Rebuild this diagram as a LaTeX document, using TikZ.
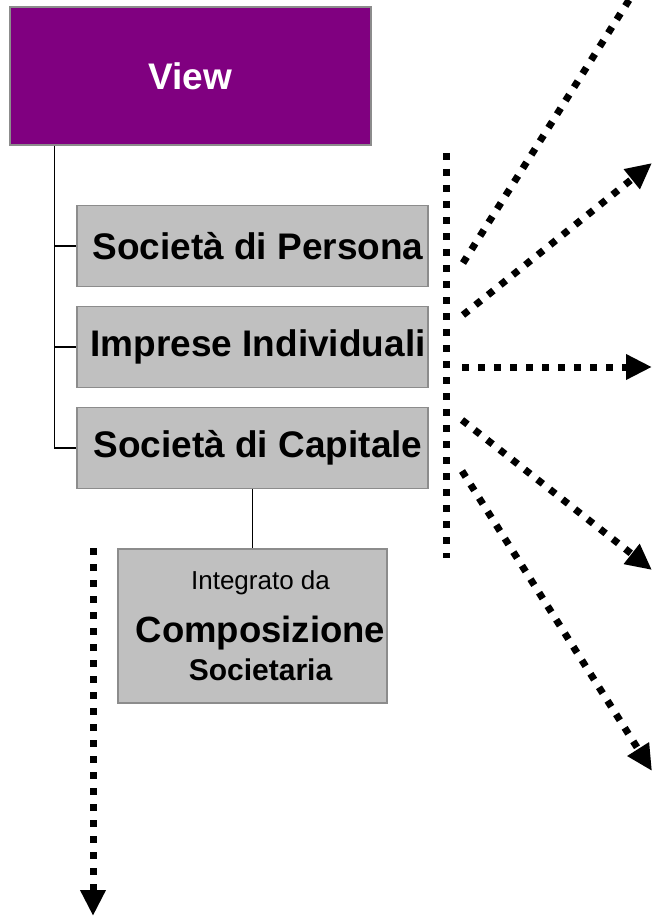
\documentclass[tikz,border=0pt]{standalone}
\usepackage{fontspec}
\setmainfont{Liberation Sans}
\usepackage{xcolor}
\definecolor{colorView}{HTML}{800080}
\definecolor{colorBox}{HTML}{C0C0C0}
\definecolor{colorBorder}{HTML}{8C8C8C}
\usetikzlibrary{arrows.meta, positioning}
\tikzset{
  viewbox/.style={draw=colorBorder, line width=1.5pt, fill=colorView, text=white, font=\bfseries\fontsize{37}{42}\selectfont, minimum width=361pt, minimum height=138pt, inner sep=0pt},
  catbox/.style={draw=colorBorder, line width=1.5pt, fill=colorBox, font=\bfseries\fontsize{37}{42}\selectfont, minimum width=351pt, minimum height=81pt, inner sep=0pt, execute at begin node={\hspace*{11pt}}},
  treeline/.style={line width=1.3pt},
  dotline/.style={line width=7pt, dash pattern=on 7pt off 9pt},
  dotarrow/.style={dotline, -{Triangle[length=26pt, width=24pt]}}
}
\newcommand{\shiftln}{\hspace*{5pt}}

\begin{document}
\begin{tikzpicture}[x=1pt, y=-1pt]
\useasboundingbox (0,0) rectangle (652,917);
\clip (0,0) rectangle (652,917);
\node[viewbox] (view) at (190.5,76) {View};
\node[catbox] (persona) at (252.5,246) {Società di Persona};
\node[catbox, below=18.5pt of persona] (imprese) {Imprese Individuali};
\node[catbox, below=18.5pt of imprese] (capitale) {Società di Capitale};
\node[catbox, below=59pt of capitale, minimum width=269pt, minimum height=154pt, align=center, font=\mdseries, execute at begin node={}] (compos) {{\fontsize{26}{30}\selectfont\shiftln Integrato da}\\[20pt]{\bfseries\fontsize{36.5}{40}\selectfont\shiftln Composizione}\\[8pt]{\bfseries\fontsize{30}{34}\selectfont\shiftln Societaria}};
% tree
\coordinate (trunk) at ([xshift=45pt]view.south west);
\draw[treeline] (trunk) |- (capitale.west);
\draw[treeline] (trunk |- persona.west) -- (persona.west);
\draw[treeline] (trunk |- imprese.west) -- (imprese.west);
\draw[treeline] (capitale.south) -- (compos.north);
% dotted bar and arrows
\coordinate (bartop) at (446,153);
\coordinate (barbot) at (446,558);
\draw[dotline] (bartop) -- (barbot);
\coordinate (s1) at (463,263); \coordinate (t1) at (648,-30);
\coordinate (s2) at (463,315); \coordinate (t2) at (652,163);
\coordinate (s3) at (462,367); \coordinate (t3) at (652,367);
\coordinate (s4) at (462,420); \coordinate (t4) at (652,570);
\coordinate (s5) at (462,471); \coordinate (t5) at (652,771);
\coordinate (d1) at (93,548); \coordinate (d2) at (93,916);
\draw[dotarrow] (s1) -- (t1);
\draw[dotarrow] (s2) -- (t2);
\draw[dotarrow] (s3) -- (t3);
\draw[dotarrow] (s4) -- (t4);
\draw[dotarrow] (s5) -- (t5);
\draw[dotarrow] (d1) -- (d2);
\end{tikzpicture}
\end{document}
